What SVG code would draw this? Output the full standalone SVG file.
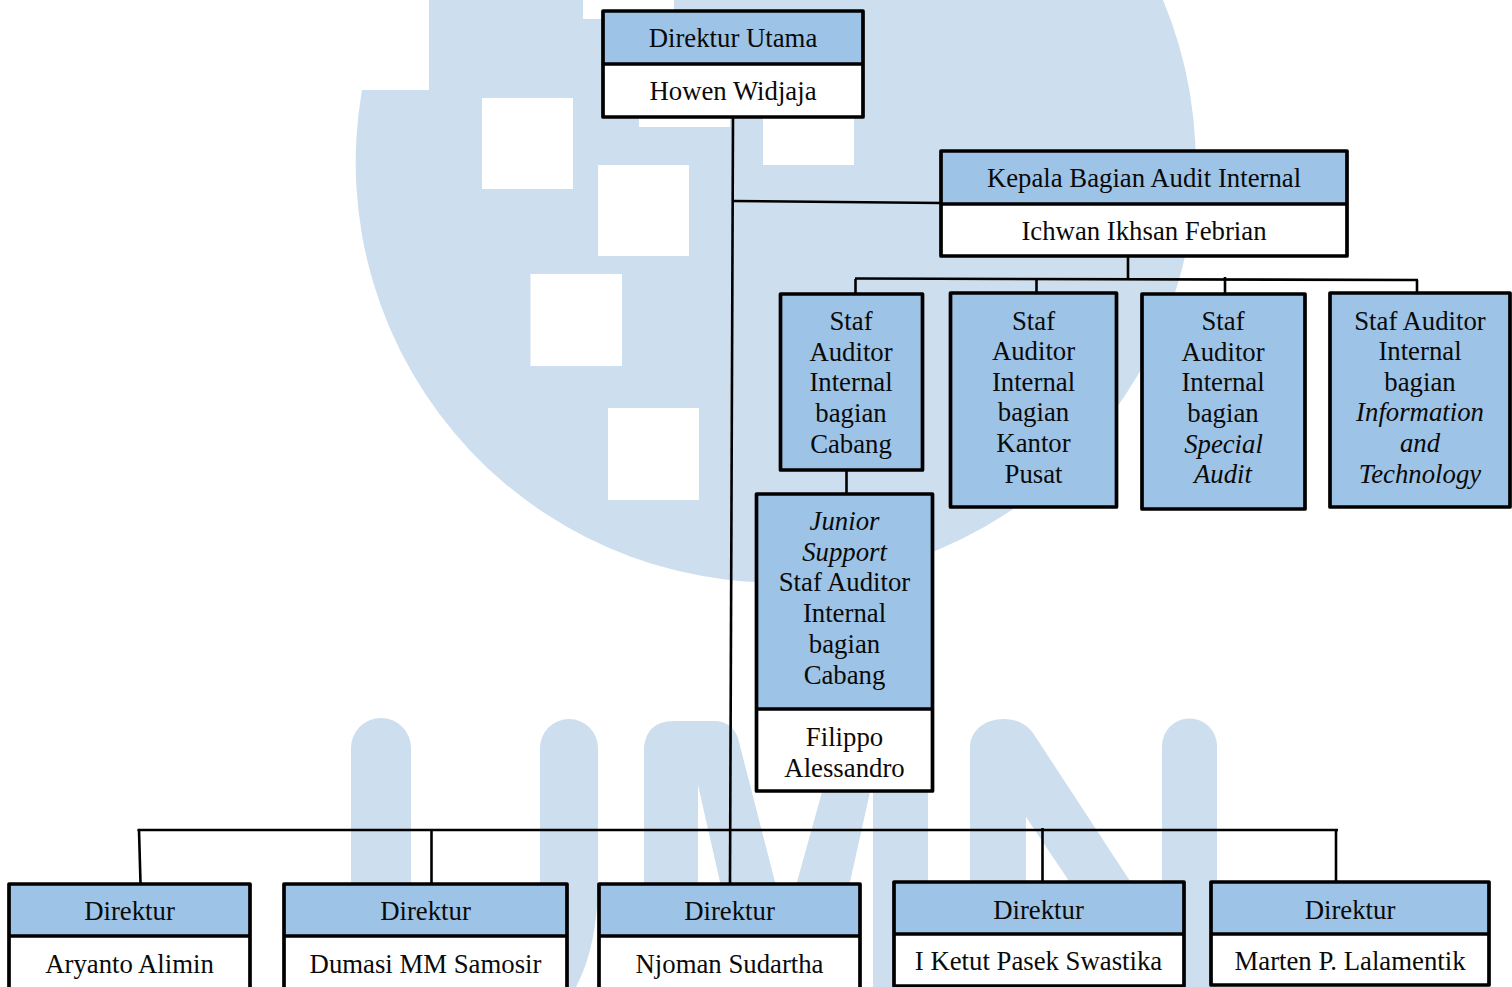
<svg xmlns="http://www.w3.org/2000/svg" width="1512" height="987" viewBox="0 0 1512 987">
<style>
text{font-family:"Liberation Serif","Times New Roman",serif;font-size:26.75px;fill:#0a0a0a;text-anchor:middle}
.i{font-style:italic}
.h{fill:#9dc3e6}
.w{fill:#fff}
.b{fill:none;stroke:#000;stroke-width:3.7;stroke-linejoin:round}
.c{fill:none;stroke:#000;stroke-width:2.6}
.wm{fill:#cddeee}
.hole{fill:#fff}
</style>
<rect width="1512" height="987" fill="#fff"/>
<g id="watermark">
<path class="wm" d="M429 0V90H362A420 420 0 1 0 1163 0Z"/>
<rect class="hole" x="583" y="0" width="91" height="19"/>
<rect class="hole" x="482" y="98" width="91" height="91"/>
<rect class="hole" x="598" y="165" width="91" height="91"/>
<rect class="hole" x="530.500" y="274" width="91.500" height="92"/>
<rect class="hole" x="608" y="408" width="91" height="92"/>
<rect class="hole" x="639" y="60" width="91" height="67"/>
<rect class="hole" x="763" y="100" width="91" height="65"/>
<path class="wm" d="M351 987V748A30 30 0 0 1 411 748V987Z"/>
<path class="wm" d="M540 987V748A29 29 0 0 1 598 748V880C598 925 590 960 576 987Z"/>
<path class="wm" d="M644 987V752C644 732 654 721 674 721H714C726 721 734 727 738 738L775 882L800 987H740L720 882L698 785V987Z"/>
<path class="wm" d="M797 882L822 792H870L850 882L830 987H770ZM873 700H928V987H873Z"/>
<path class="wm" d="M970 987V748C970 730 985 719 1004 719C1018 719 1027 725 1033 733L1128 878L1200 987H1120L1067 878L1026 817V987Z"/>
<path class="wm" d="M1162 987V746A27.500 27.500 0 0 1 1217 746V987Z"/>
</g>
<g id="connectors">
<path class="c" d="M733 117L730 883"/>
<path class="c" d="M733 201L941 203"/>
<path class="c" d="M1128 256V279"/>
<path class="c" d="M855 278.500L1418 280"/>
<path class="c" d="M855.500 279V293"/>
<path class="c" d="M1036.500 279V292"/>
<path class="c" d="M1225 277V293"/>
<path class="c" d="M1417 280V292"/>
<path class="c" d="M846.500 470V493"/>
<path class="c" d="M137.500 830H1338"/>
<path class="c" d="M139 830L140.500 883"/>
<path class="c" d="M431.500 830V883"/>
<path class="c" d="M1042.500 828V882"/>
<path class="c" d="M1336 830V881"/>
</g>
<g id="node-direktur-utama">
<rect class="h" x="603" y="11" width="260" height="53"/><rect class="w" x="603" y="64" width="260" height="53"/>
<path class="b" d="M603 11H863V117H603ZM603 64H863"/>
<text x="733" y="47.400">Direktur Utama</text><text x="733" y="100.400">Howen Widjaja</text>
</g>
<g id="node-kepala">
<rect class="h" x="941" y="151" width="406" height="53"/><rect class="w" x="941" y="204" width="406" height="52"/>
<path class="b" d="M941 151H1347V256H941ZM941 204H1347"/>
<text x="1144" y="187.400">Kepala Bagian Audit Internal</text><text x="1144" y="240.400">Ichwan Ikhsan Febrian</text>
</g>
<g id="node-staf-cabang">
<rect class="h" x="780.500" y="294" width="142" height="176"/><path class="b" d="M780.500 294H922.500V470H780.500Z"/>
<text x="851" y="330.400">Staf</text><text x="851" y="361.400">Auditor</text><text x="851" y="391.400">Internal</text><text x="851" y="422.400">bagian</text><text x="851" y="453.400">Cabang</text>
</g>
<g id="node-staf-kantor-pusat">
<rect class="h" x="950.500" y="293" width="166" height="214"/><path class="b" d="M950.500 293H1116.500V507H950.500Z"/>
<text x="1033.500" y="330">Staf</text><text x="1033.500" y="360.400">Auditor</text><text x="1033.500" y="391.400">Internal</text><text x="1033.500" y="421.400">bagian</text><text x="1033.500" y="452.400">Kantor</text><text x="1033.500" y="483.400">Pusat</text>
</g>
<g id="node-staf-special-audit">
<rect class="h" x="1142" y="294" width="163" height="215"/><path class="b" d="M1142 294H1305V509H1142Z"/>
<text x="1223" y="330.400">Staf</text><text x="1223" y="361.400">Auditor</text><text x="1223" y="391.400">Internal</text><text x="1223" y="422.400">bagian</text><text class="i" x="1223.500" y="453.400">Special</text><text class="i" x="1223" y="483.400">Audit</text>
</g>
<g id="node-staf-it">
<rect class="h" x="1330" y="293" width="180" height="214"/><path class="b" d="M1330 293H1510V507H1330Z"/>
<text x="1420" y="330">Staf Auditor</text><text x="1420" y="360.400">Internal</text><text x="1420" y="391.400">bagian</text><text class="i" x="1420" y="421.400">Information</text><text class="i" x="1420" y="452.400">and</text><text class="i" x="1420" y="483.400">Technology</text>
</g>
<g id="node-junior">
<rect class="h" x="756.500" y="494" width="176" height="215"/><rect class="w" x="756.500" y="709" width="176" height="82"/>
<path class="b" d="M756.500 494H932.500V791H756.500ZM756.500 709H932.500"/>
<text class="i" x="844.500" y="530.400">Junior</text><text class="i" x="844.500" y="561.400">Support</text><text x="844.500" y="591.400">Staf Auditor</text><text x="844.500" y="622.400">Internal</text><text x="844.500" y="653.400">bagian</text><text x="844.500" y="684.400">Cabang</text><text x="844.500" y="746.400">Filippo</text><text x="844.500" y="777.400">Alessandro</text>
</g>
<g id="node-direktur-1">
<rect class="h" x="9" y="884" width="241" height="52"/><rect class="w" x="9" y="936" width="241" height="53"/>
<path class="b" d="M9 884H250V989H9ZM9 936H250"/>
<text x="129.500" y="920.400">Direktur</text><text x="129.500" y="973.400">Aryanto Alimin</text>
</g>
<g id="node-direktur-2">
<rect class="h" x="284" y="884" width="283" height="52"/><rect class="w" x="284" y="936" width="283" height="53"/>
<path class="b" d="M284 884H567V989H284ZM284 936H567"/>
<text x="425.500" y="920.400">Direktur</text><text x="425.500" y="973.400">Dumasi MM Samosir</text>
</g>
<g id="node-direktur-3">
<rect class="h" x="599" y="884" width="261" height="52"/><rect class="w" x="599" y="936" width="261" height="53"/>
<path class="b" d="M599 884H860V989H599ZM599 936H860"/>
<text x="729.500" y="920.400">Direktur</text><text x="729.500" y="973.400">Njoman Sudartha</text>
</g>
<g id="node-direktur-4">
<rect class="h" x="894" y="882" width="290" height="52"/><rect class="w" x="894" y="934" width="290" height="52"/>
<path class="b" d="M894 882H1184V986H894ZM894 934H1184"/>
<text x="1038.500" y="919.400">Direktur</text><text x="1038.500" y="970.400">I Ketut Pasek Swastika</text>
</g>
<g id="node-direktur-5">
<rect class="h" x="1211" y="882" width="278" height="52"/><rect class="w" x="1211" y="934" width="278" height="51"/>
<path class="b" d="M1211 882H1489V985H1211ZM1211 934H1489"/>
<text x="1350" y="919.400">Direktur</text><text x="1350" y="970.400">Marten P. Lalamentik</text>
</g>
</svg>
